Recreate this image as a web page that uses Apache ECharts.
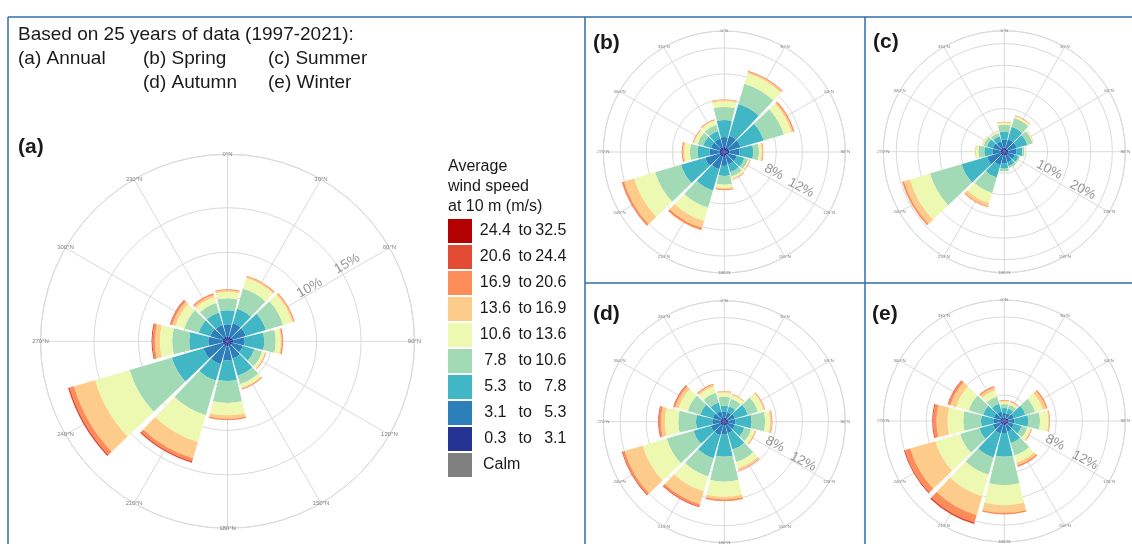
<!DOCTYPE html>
<html>
<head>
<meta charset="utf-8">
<script src="https://cdn.jsdelivr.net/npm/echarts@6/dist/echarts.min.js"></script>
<style>
html,body{margin:0;padding:0;background:#ffffff;}
#chart{width:1132px;height:544px;}
</style>
</head>
<body>
<div id="chart"></div>
<script>
// ---------- data ----------
const directions = ['0°N','30°N','60°N','90°N','120°N','150°N','180°N','210°N','240°N','270°N','300°N','330°N'];
const bearings = [0,30,60,90,120,150,180,210,240,270,300,330];
const speedBins = ['0.3 to 3.1','3.1 to 5.3','5.3 to 7.8','7.8 to 10.6','10.6 to 13.6','13.6 to 16.9','16.9 to 20.6','20.6 to 24.4','24.4 to 32.5'];
const legendOrder = ['24.4 to 32.5','20.6 to 24.4','16.9 to 20.6','13.6 to 16.9','10.6 to 13.6','7.8 to 10.6','5.3 to 7.8','3.1 to 5.3','0.3 to 3.1','Calm'];

// frequency (%) — one row per direction (0°N ... 330°N), one column per speed bin (low -> high)
const annual = [
  [0.56,1.35,1.57,1.35,0.73,0.17,0.11],
  [0.56,1.57,1.69,2.36,1.24,0.15,0.11],
  [0.56,1.57,2.36,2.02,1.07,0.17,0.11],
  [0.64,1.30,2.18,1.30,0.56,0.11,0.16],
  [0.56,1.24,1.35,0.90,0.34,0.08,0.07],
  [0.56,1.46,2.02,0.96,0.45,0.11,0.09],
  [0.56,1.57,2.33,2.47,1.38,0.37,0.19],
  [0.56,2.13,1.91,4.04,3.15,1.91,0.34,0.17],
  [0.56,2.25,3.71,4.94,4.04,2.47,0.51,0.17],
  [0.56,1.61,2.13,1.91,1.39,0.56,0.26,0.11],
  [0.56,1.46,1.35,1.69,1.01,0.39,0.20,0.08],
  [0.56,1.35,1.46,1.12,0.67,0.28,0.17]
];
const spring = [
  [0.77,1.54,2.62,2.00,0.88,0.20,0.11],
  [0.77,1.85,5.08,3.23,1.69,0.23,0.15],
  [0.77,1.85,3.69,3.23,1.23,0.23,0.23],
  [0.77,1.54,2.15,0.88,0.40,0.14,0.12],
  [0.62,1.38,1.23,0.62,0.23,0.11,0.06],
  [0.62,1.38,1.23,0.69,0.31,0.12,0.11],
  [0.77,1.38,1.54,1.34,0.51,0.20,0.15],
  [0.77,2.00,3.38,2.77,2.15,1.08,0.38],
  [0.77,2.31,3.85,4.15,3.38,1.62,0.28,0.08],
  [0.77,1.54,1.80,1.17,0.88,0.20,0.18],
  [0.77,1.38,1.23,0.92,0.54,0.12,0.11],
  [0.77,1.38,1.23,1.00,0.62,0.12,0.11]
];
const summer = [
  [0.93,1.85,1.85,1.62,0.46,0.14,0.09],
  [0.93,2.08,3.01,2.08,0.46,0.12,0.12],
  [0.93,2.08,2.55,1.27,0.23,0.12],
  [0.93,1.85,1.39,0.46,0.16],
  [0.93,1.62,0.93,0.35,0.12],
  [0.93,1.62,0.93,0.46,0.12],
  [0.93,1.85,1.16,0.58,0.12],
  [0.93,2.31,3.01,3.70,2.45,0.79,0.23],
  [0.93,3.24,6.13,7.64,4.84,1.44,0.44],
  [0.93,1.85,1.85,1.39,0.58,0.19],
  [0.93,1.85,1.39,0.81,0.35,0.12],
  [0.93,1.62,1.16,0.81,0.35,0.09]
];
const autumn = [
  [0.62,0.92,0.92,1.38,0.66,0.14,0.08],
  [0.62,0.92,0.92,1.23,0.54,0.15,0.08],
  [0.62,1.08,2.09,1.60,0.92,0.15,0.11],
  [0.62,1.08,2.51,2.06,0.77,0.25,0.11],
  [0.62,1.08,1.54,1.08,0.54,0.15,0.08],
  [0.62,1.23,2.62,2.00,1.00,0.28,0.11],
  [0.62,1.38,3.38,3.85,2.31,0.42,0.25],
  [0.62,1.54,3.69,2.92,2.40,2.06,0.35,0.11],
  [0.62,1.54,2.77,4.31,3.85,2.89,0.34,0.11],
  [0.62,1.23,2.51,2.72,2.05,0.62,0.31,0.11],
  [0.62,1.23,2.00,2.00,1.46,0.54,0.23,0.08],
  [0.62,1.08,1.38,1.54,1.00,0.31,0.15]
];
const winter = [
  [0.46,0.77,0.77,0.62,0.38,0.12,0.11],
  [0.46,0.77,0.77,0.62,0.38,0.12,0.11],
  [0.62,0.92,1.85,1.54,1.23,0.54,0.23],
  [0.62,0.92,2.15,1.80,1.28,0.15,0.11],
  [0.62,0.92,1.23,0.92,0.54,0.14,0.09],
  [0.62,1.08,1.85,2.00,1.08,0.46,0.26],
  [0.62,1.23,3.65,4.35,3.08,1.18,0.25],
  [0.62,1.38,3.85,2.77,3.46,3.00,1.15,0.29],
  [0.62,1.23,2.15,3.08,4.00,4.00,0.85,0.15],
  [0.62,1.08,1.89,2.72,2.42,1.69,0.51,0.15],
  [0.62,1.08,1.69,2.31,2.00,0.92,0.37,0.09],
  [0.62,0.92,1.23,1.15,1.00,0.46,0.22]
];
const annualRingLabels = ['10%','15%'];
const springRingLabels = ['8%','12%'];
const summerRingLabels = ['10%','20%'];
const autumnRingLabels = ['8%','12%'];
const winterRingLabels = ['8%','12%'];

// ---------- styles / layout ----------
const binColors = ['#253494','#2c7fb8','#41b6c4','#a1dab4','#edf8b1','#fdcc8a','#fc8d59','#e34a33','#b30000'];
const calmColor = '#808080';
const gridColor = '#dadada';
const borderColor = '#2f6ea8';
const FONT = '"Liberation Sans", Arial, sans-serif';

const roses = [
  {rows: annual, rings: annualRingLabels, center:[227.5,341.3], radius:187, maxR:21, step:5, hideTicks:[4], ringPos:[[11.0,57],[16.0,57]], ringRot:30, dirFont:6},
  {rows: spring, rings: springRingLabels, center:[724.3,152], radius:121, maxR:18.6, step:4, hideTicks:[], ringPos:[[8.2,112],[13.0,115]], ringRot:-28, dirFont:4.4},
  {rows: summer, rings: summerRingLabels, center:[1004.3,151.7], radius:121, maxR:28, step:5, hideTicks:[], ringPos:[[11.2,112],[20.2,116]], ringRot:-28, dirFont:4.4},
  {rows: autumn, rings: autumnRingLabels, center:[724.3,421.7], radius:121, maxR:18.6, step:4, hideTicks:[], ringPos:[[8.5,114],[13.6,117]], ringRot:-28, dirFont:4.4},
  {rows: winter, rings: winterRingLabels, center:[1004.3,421], radius:121, maxR:18.6, step:4, hideTicks:[], ringPos:[[8.45,113],[13.8,116]], ringRot:-28, dirFont:4.4}
];

const polar = [], angleAxis = [], radiusAxis = [], series = [];
roses.forEach((r, i) => {
  const g = 2 * i, b = 2 * i + 1;
  polar.push({center: r.center, radius: r.radius}, {center: r.center, radius: r.radius});
  angleAxis.push({
    polarIndex: g, type: 'value', min: 0, max: 360, interval: 30, startAngle: 90, clockwise: true,
    axisLine: {show: true, lineStyle: {color: gridColor, width: 1}},
    axisTick: {show: false}, axisLabel: {show: false},
    splitLine: {show: true, lineStyle: {color: gridColor, width: 1}}
  });
  angleAxis.push({
    polarIndex: b, type: 'category', data: directions, startAngle: 105, clockwise: true, boundaryGap: true,
    axisLine: {show: false}, axisTick: {show: false}, axisLabel: {show: false}, splitLine: {show: false}
  });
  const nT = Math.floor(r.maxR / r.step) + 2;
  const ringColors = [];
  for (let t = 0; t < nT; t++) ringColors.push(r.hideTicks.indexOf(t) >= 0 ? 'rgba(0,0,0,0)' : gridColor);
  radiusAxis.push({
    polarIndex: g, type: 'value', min: 0, max: r.maxR, interval: r.step,
    axisLine: {show: false}, axisTick: {show: false}, axisLabel: {show: false},
    splitLine: {show: true, lineStyle: {color: ringColors, width: 1}}
  });
  radiusAxis.push({
    polarIndex: b, type: 'value', min: 0, max: r.maxR,
    axisLine: {show: false}, axisTick: {show: false}, axisLabel: {show: false}, splitLine: {show: false}
  });
  speedBins.forEach((name, k) => {
    series.push({
      type: 'bar', coordinateSystem: 'polar', polarIndex: b, stack: 'rose' + i, name: name,
      data: r.rows.map(row => row[k] || 0),
      itemStyle: {color: binColors[k]}, barCategoryGap: '9%', silent: true
    });
  });
  series.push({
    type: 'scatter', coordinateSystem: 'polar', polarIndex: g, silent: true, symbolSize: 0,
    data: bearings.map(a => [r.maxR, a]),
    label: {show: true, position: 'inside', formatter: p => directions[p.dataIndex], fontSize: r.dirFont, color: '#606060', fontFamily: FONT},
    z: 5
  });
  series.push({
    type: 'scatter', coordinateSystem: 'polar', polarIndex: g, silent: true, symbolSize: 0,
    data: r.ringPos,
    label: {show: true, position: 'inside', formatter: p => r.rings[p.dataIndex], fontSize: 13.5, color: '#7b7b7b', fontFamily: FONT, rotate: r.ringRot},
    z: 5
  });
});
series.push({type: 'bar', coordinateSystem: 'polar', polarIndex: 1, stack: 'rose0', name: 'Calm', data: [], itemStyle: {color: calmColor}});

function txt(text, x, y, size, weight, extra) {
  return Object.assign({
    type: 'text', x: x, y: y, silent: true,
    style: {text: text, fill: '#1a1a1a', font: (weight || 'normal') + ' ' + size + 'px ' + FONT, verticalAlign: 'middle'}
  }, extra || {});
}
function line(x1, y1, x2, y2) {
  return {type: 'line', silent: true, shape: {x1, y1, x2, y2}, style: {stroke: borderColor, lineWidth: 1.5}};
}

const option = {
  backgroundColor: '#ffffff',
  animation: false,
  polar, angleAxis, radiusAxis, series,
  legend: {
    orient: 'vertical', left: 448, top: 219, padding: 0, itemWidth: 24, itemHeight: 24, itemGap: 2,
    icon: 'rect', selectedMode: false, data: legendOrder,
    formatter: name => {
      if (name === 'Calm') return '{n|Calm}';
      const parts = name.split(' to ');
      return '{a|' + parts[0] + '}{b|to}{c|' + parts[1] + '}';
    },
    textStyle: {
      fontSize: 16, color: '#1a1a1a', fontFamily: FONT,
      rich: {
        a: {width: 36.7, align: 'right', fontSize: 16, fontFamily: FONT, color: '#1a1a1a'},
        b: {width: 23, align: 'center', fontSize: 16, fontFamily: FONT, color: '#1a1a1a'},
        c: {width: 29.7, align: 'right', fontSize: 16, fontFamily: FONT, color: '#1a1a1a'},
        n: {padding: [0, 0, 0, 6], fontSize: 16, fontFamily: FONT, color: '#1a1a1a'}
      }
    }
  },
  graphic: [
    line(8, 17, 1132, 17),
    line(8, 17, 8, 544),
    line(585, 17, 585, 544),
    line(865, 17, 865, 544),
    line(585, 283, 1132, 283),
    txt('Based on 25 years of data (1997-2021):', 18, 35, 19),
    txt('(a) Annual', 18, 59, 19),
    txt('(b) Spring', 143, 59, 19),
    txt('(c) Summer', 268, 59, 19),
    txt('(d) Autumn', 143, 83, 19),
    txt('(e) Winter', 268, 83, 19),
    {type: 'text', x: 448, y: 157, silent: true, style: {text: 'Average\nwind speed\nat 10 m (m/s)', fill: '#1a1a1a', font: '16px ' + FONT, lineHeight: 20, verticalAlign: 'top'}},
    txt('(a)', 18, 147.5, 21, 'bold'),
    txt('(b)', 593, 42.8, 21, 'bold'),
    txt('(c)', 873, 42.5, 21, 'bold'),
    txt('(d)', 593, 314.5, 21, 'bold'),
    txt('(e)', 872, 314.5, 21, 'bold')
  ]
};

const chart = echarts.init(document.getElementById('chart'), null, {renderer: 'canvas'});
chart.setOption(option);
</script>
</body>
</html>
